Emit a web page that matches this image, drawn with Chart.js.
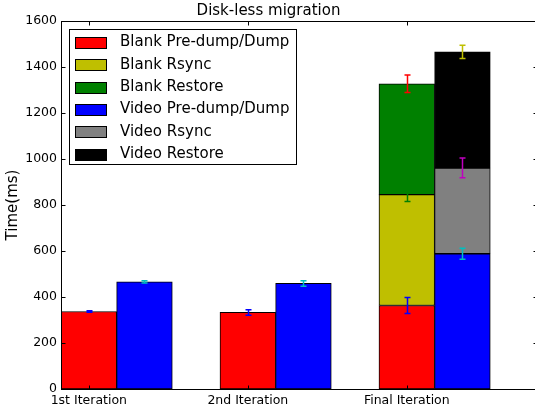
<!DOCTYPE html>
<html>
<head>
<meta charset="utf-8">
<script src="https://cdn.jsdelivr.net/npm/chart.js@4.4.1/dist/chart.umd.min.js"></script>
<style>
  html, body { margin: 0; padding: 0; background: #fff; overflow: hidden; }
  #wrap { width: 540px; height: 414px; }
</style>
</head>
<body>
<div id="wrap"><canvas id="chart" width="540" height="414"></canvas></div>
<script>
// data (ms)
const categories = ['1st Iteration', '2nd Iteration', 'Final Iteration'];
const yTicks = [0, 200, 400, 600, 800, 1000, 1200, 1400, 1600];

const blankDump = [337, 333, 363];
const blankDumpErr = [3, 12, 35];
const blankRsync = [null, null, 482];
const blankRsyncErr = [null, null, 30];
const blankRestore = [null, null, 482];
const blankRestoreErr = [null, null, 38];

const videoDump = [466, 459, 588];
const videoDumpErr = [5, 12, 24];
const videoRsync = [null, null, 373];
const videoRsyncErr = [null, null, 43];
const videoRestore = [null, null, 505];
const videoRestoreErr = [null, null, 29];

const barWidth = 0.35;  // video bars sit one bar width right of the tick
const FONT = 'DejaVu Sans';

function points(values, errs, offset) {
  return values
    .map((v, i) => ({ x: i + offset, y: v, err: errs[i] }))
    .filter(p => p.y !== null);
}

function series(label, values, errs, stack, fill, errColor) {
  return {
    label: label,
    data: points(values, errs, stack === 'video' ? barWidth : 0),
    stack: stack,
    backgroundColor: fill,
    borderColor: '#000',
    borderWidth: 1,
    borderSkipped: false,
    grouped: false,
    barPercentage: 1,
    categoryPercentage: 1,
    errColor: errColor
  };
}

const datasets = [
  series('Blank Pre-dump/Dump', blankDump, blankDumpErr, 'blank', '#ff0000', '#0000ff'),
  series('Blank Rsync', blankRsync, blankRsyncErr, 'blank', '#bfbf00', '#008000'),
  series('Blank Restore', blankRestore, blankRestoreErr, 'blank', '#008000', '#ff0000'),
  series('Video Pre-dump/Dump', videoDump, videoDumpErr, 'video', '#0000ff', '#00bfbf'),
  series('Video Rsync', videoRsync, videoRsyncErr, 'video', '#808080', '#bf00bf'),
  series('Video Restore', videoRestore, videoRestoreErr, 'video', '#000000', '#bfbf00')
];

// error bars on top of each stacked segment
const errorBars = {
  id: 'errorBars',
  afterDatasetsDraw(chart) {
    const ctx = chart.ctx;
    const y = chart.scales.y;
    ctx.save();
    chart.data.datasets.forEach((ds, di) => {
      const meta = chart.getDatasetMeta(di);
      meta.data.forEach((el, j) => {
        const err = ds.data[j].err;
        if (!err) return;
        const top = y.getValueForPixel(el.y);
        const hi = y.getPixelForValue(top + err);
        const lo = y.getPixelForValue(top - err);
        const x = Math.round(el.x) + 0.5;
        ctx.strokeStyle = ds.errColor;
        ctx.lineWidth = 1.5;
        ctx.beginPath();
        ctx.moveTo(x, hi); ctx.lineTo(x, lo);
        ctx.moveTo(x - 3, hi); ctx.lineTo(x + 3, hi);
        ctx.moveTo(x - 3, lo); ctx.lineTo(x + 3, lo);
        ctx.stroke();
      });
    });
    ctx.restore();
  }
};

// matplotlib style box with inward ticks on all four sides
const axesFrame = {
  id: 'axesFrame',
  afterDraw(chart) {
    const ctx = chart.ctx;
    const a = chart.chartArea;
    const xs = chart.scales.x, ys = chart.scales.y;
    const L = Math.round(a.left) + 0.5, R = Math.round(a.right) + 0.5;
    const T = Math.round(a.top) + 0.5, B = Math.round(a.bottom) + 0.5;
    ctx.save();
    ctx.strokeStyle = '#000';
    ctx.lineWidth = 1;
    ctx.beginPath();
    xs.ticks.forEach(t => {
      const px = Math.round(xs.getPixelForValue(t.value)) + 0.5;
      ctx.moveTo(px, B); ctx.lineTo(px, B - 4);
      ctx.moveTo(px, T); ctx.lineTo(px, T + 4);
    });
    ys.ticks.forEach(t => {
      const py = Math.round(ys.getPixelForValue(t.value)) + 0.5;
      ctx.moveTo(L, py); ctx.lineTo(L + 4, py);
      ctx.moveTo(R, py); ctx.lineTo(R - 4, py);
    });
    ctx.stroke();
    ctx.strokeRect(L, T, R - L, B - T);
    ctx.restore();
  }
};

// legend drawn inside the plot, upper left
const boxLegend = {
  id: 'boxLegend',
  afterDraw(chart) {
    const ctx = chart.ctx;
    const a = chart.chartArea;
    const left = Math.round(a.left) + 8.5, top = Math.round(a.top) + 8.5;
    const rowH = 22.3;
    ctx.save();
    ctx.font = '15px "' + FONT + '"';
    let maxW = 0;
    chart.data.datasets.forEach(ds => { maxW = Math.max(maxW, ctx.measureText(ds.label).width); });
    const w = Math.round(50 + maxW + 8);
    const h = Math.round(rowH * chart.data.datasets.length + 1);
    ctx.fillStyle = '#fff';
    ctx.fillRect(left, top, w, h);
    ctx.strokeStyle = '#000';
    ctx.lineWidth = 1;
    ctx.strokeRect(left, top, w, h);
    ctx.textBaseline = 'middle';
    chart.data.datasets.forEach((ds, i) => {
      const cy = top + 13 + i * rowH;
      const sy = Math.round(cy - 5.5) + 0.5;
      ctx.fillStyle = ds.backgroundColor;
      ctx.fillRect(left + 6, sy, 31, 11);
      ctx.strokeRect(left + 6, sy, 31, 11);
      ctx.fillStyle = '#000';
      ctx.fillText(ds.label, left + 50.5, cy);
    });
    ctx.restore();
  }
};

new Chart(document.getElementById('chart'), {
  type: 'bar',
  data: { datasets: datasets },
  options: {
    responsive: false,
    animation: false,
    layout: { padding: { left: 0, right: 3, top: 0, bottom: 0 } },
    plugins: {
      legend: { display: false },
      tooltip: { enabled: false },
      title: {
        display: true,
        text: 'Disk-less migration',
        color: '#000',
        font: { family: FONT, size: 15, weight: 'normal', lineHeight: 1.2 },
        padding: { top: 2, bottom: 1 }
      }
    },
    scales: {
      x: {
        type: 'linear',
        min: -0.175,
        max: 2.819,
        offset: false,
        grid: { display: false, drawTicks: false, offset: false },
        border: { display: false },
        afterBuildTicks(scale) {
          scale.ticks = categories.map((c, i) => ({ value: i }));
        },
        afterFit(scale) { scale.height = 25; },
        ticks: {
          padding: 4,
          maxRotation: 0,
          autoSkip: false,
          color: '#000',
          font: { family: FONT, size: 12.5 },
          callback: v => categories[v] || ''
        }
      },
      y: {
        stacked: true,
        min: 0,
        max: 1600,
        grid: { display: false, drawTicks: false },
        border: { display: false },
        afterBuildTicks(scale) {
          scale.ticks = yTicks.map(v => ({ value: v }));
        },
        afterFit(scale) { scale.width = 61; },
        ticks: {
          padding: 4,
          color: '#000',
          font: { family: FONT, size: 12.5 },
          callback: v => String(v)
        },
        title: {
          display: true,
          text: 'Time(ms)',
          color: '#000',
          font: { family: FONT, size: 15 },
          padding: { top: 4, bottom: 0 }
        }
      }
    }
  },
  plugins: [errorBars, axesFrame, boxLegend]
});
</script>
</body>
</html>
